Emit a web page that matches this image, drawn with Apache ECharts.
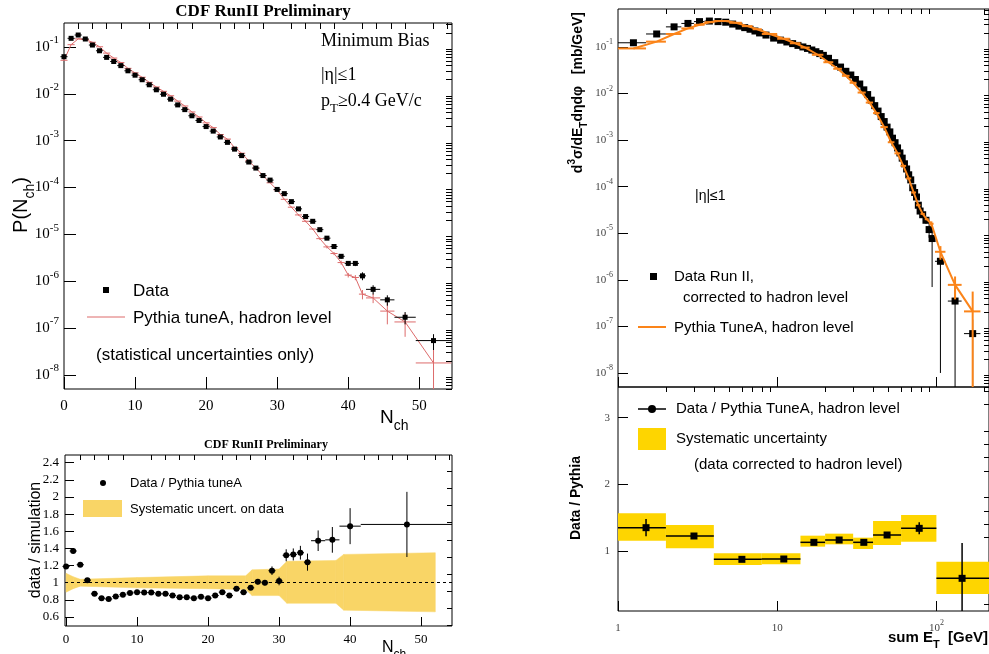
<!DOCTYPE html>
<html>
<head>
<meta charset="utf-8">
<title>CDF RunII minimum bias</title>
<script src="https://cdn.jsdelivr.net/npm/echarts@6/dist/echarts.min.js"></script>
</head>
<body style="margin:0;">
<div id="main" style="width:989px;height:654px;"></div>
<script type="text/javascript">
// ---- charged multiplicity P(Nch), data and Pythia tuneA
var nch = [0,1,2,3,4,5,6,7,8,9,10,11,12,13,14,15,16,17,18,19,20,21,22,23,24,25,26,27,28,29,30,31,32,33,34,35,36,37,38,39,40,41,42,43.5,45.5,48,52];
var nchHalf = [0.5,0.5,0.5,0.5,0.5,0.5,0.5,0.5,0.5,0.5,0.5,0.5,0.5,0.5,0.5,0.5,0.5,0.5,0.5,0.5,0.5,0.5,0.5,0.5,0.5,0.5,0.5,0.5,0.5,0.5,0.5,0.5,0.5,0.5,0.5,0.5,0.5,0.5,0.5,0.5,0.5,0.5,0.5,1,1,1.5,2.5];
var pData = [0.062,0.153,0.18,0.148,0.11,0.083,0.060,0.049,0.040,0.031,0.025,0.020,0.0156,0.0122,0.0098,0.0077,0.0058,0.0046,0.0034,0.0027,0.0020,0.0016,0.0012,0.00092,0.00066,0.00048,0.00035,0.00026,0.00018,0.000144,9.1e-5,7.4e-5,5.0e-5,3.5e-5,2.4e-5,1.9e-5,1.26e-5,8.3e-6,5.5e-6,3.4e-6,2.4e-6,2.4e-6,1.3e-6,6.7e-7,4.0e-7,1.7e-7,5.4e-8];
var pDataErr = [0,0,0,0,0,0,0,0,0,0,0,0,0,0,0,0,0,0,0,0,0,0,0,0,0,0,0,0,0,0,0,0,0,0,0,1e-6,8e-7,6e-7,5e-7,4e-7,3e-7,3e-7,2.5e-7,1.5e-7,1e-7,5e-8,2e-8];
var pPythia = [0.052,0.112,0.149,0.144,0.126,0.101,0.074,0.058,0.0465,0.035,0.028,0.0226,0.0176,0.0140,0.0113,0.0091,0.0070,0.0055,0.0041,0.0032,0.0024,0.0019,0.00135,0.00108,0.00071,0.00054,0.00037,0.00026,0.00018,0.000126,8.9e-5,5.6e-5,3.8e-5,2.6e-5,1.9e-5,1.3e-5,8.1e-6,5.4e-6,3.9e-6,2.5e-6,1.35e-6,1.2e-6,5.3e-7,4.4e-7,2.3e-7,1.35e-7,1.8e-8];
var pPythiaErr = [0,0,0,0,0,0,0,0,0,0,0,0,0,0,0,0,0,0,0,0,0,0,0,0,0,0,0,0,0,0,2e-6,1.5e-6,1.2e-6,1e-6,8e-7,6e-7,5e-7,4e-7,3e-7,2.5e-7,1.5e-7,1.5e-7,1.2e-7,1e-7,1.1e-7,7e-8,1.7e-8];

// ---- data / simulation ratio and systematic band
var ratioX = [0,1,2,3,4,5,6,7,8,9,10,11,12,13,14,15,16,17,18,19,20,21,22,23,24,25,26,27,28,29,30,31,32,33,34,35.5,37.5,40,48];
var ratioHalf = [0.5,0.5,0.5,0.5,0.5,0.5,0.5,0.5,0.5,0.5,0.5,0.5,0.5,0.5,0.5,0.5,0.5,0.5,0.5,0.5,0.5,0.5,0.5,0.5,0.5,0.5,0.5,0.5,0.5,0.5,0.5,0.5,0.5,0.5,0.5,1,1,1.5,6.5];
var ratioVal = [1.19,1.37,1.21,1.03,0.87,0.82,0.81,0.84,0.86,0.88,0.89,0.885,0.885,0.87,0.87,0.85,0.83,0.83,0.82,0.835,0.82,0.85,0.89,0.85,0.93,0.89,0.94,1.01,1.00,1.14,1.02,1.32,1.33,1.35,1.24,1.49,1.50,1.66,1.68];
var ratioErr = [0.01,0.01,0.01,0.01,0.01,0.01,0.01,0.01,0.01,0.01,0.01,0.01,0.01,0.01,0.01,0.01,0.01,0.01,0.01,0.01,0.01,0.015,0.015,0.015,0.02,0.02,0.025,0.03,0.03,0.05,0.05,0.07,0.07,0.08,0.1,0.12,0.15,0.21,0.38];
var bandX = [0,1,2,10,20,25.3,26.2,30,31.1,38,39.1,52];
var bandLo = [0.89,0.93,0.96,0.94,0.93,0.92,0.85,0.85,0.76,0.76,0.68,0.66];
var bandHi = [1.11,1.07,1.04,1.06,1.08,1.08,1.15,1.16,1.25,1.26,1.33,1.35];

// ---- sum ET cross section, data and Pythia TuneA
var etX = [1.25,1.75,2.25,2.75,3.25,3.75,4.25,4.75,5.25,5.75,6.25,6.75,7.25,7.75,8.5,9.5,10.5,11.5,12.5,13.5,14.5,15.5,16.5,17.5,18.5,19.5,21,23,25,27,29,31,33,35,37,39,41,43,45,47,49,51,53,55,57,59,61,63,65,67,69,71,73,75,77,79,82,86,90,94,106,131,169];
var etHalf = [0.25,0.25,0.25,0.25,0.25,0.25,0.25,0.25,0.25,0.25,0.25,0.25,0.25,0.25,0.5,0.5,0.5,0.5,0.5,0.5,0.5,0.5,0.5,0.5,0.5,0.5,1,1,1,1,1,1,1,1,1,1,1,1,1,1,1,1,1,1,1,1,1,1,1,1,1,1,1,1,1,1,1.5,2,2,2,8,13,20];
var etData = [0.123,0.19,0.27,0.32,0.35,0.36,0.35,0.34,0.31,0.28,0.26,0.24,0.22,0.20,0.18,0.155,0.14,0.128,0.118,0.108,0.10,0.093,0.086,0.079,0.072,0.066,0.057,0.046,0.037,0.030,0.025,0.020,0.016,0.012,0.0095,0.0072,0.0055,0.0042,0.0032,0.0025,0.0019,0.0015,0.0011,0.00088,0.00068,0.00053,0.00041,0.00031,0.00024,0.00018,0.00014,9.5e-5,7.5e-5,6e-5,4e-5,3e-5,2.5e-5,1.9e-5,1.2e-5,7.7e-6,2.5e-6,3.5e-7,7e-8];
var etErr = [0,0,0,0,0,0,0,0,0,0,0,0,0,0,0,0,0,0,0,0,0,0,0,0,0,0,0,0,0,0,0,0,0,0,0,0,0,0,0,0,0,0,0,0,0,0,0,0,0,0,0,0,0,0,0,0,3e-6,3e-6,4e-6,7e-6,2.49e-6,3.5e-7,7e-8];
var pyX = [1.25,1.75,2.25,2.75,3.25,3.75,4.25,4.75,5.5,6.5,7.5,9,11,13,15,18,21,24,27,30,34,38,42,47,52,57,62,67,72,77,82,87,93,106,131,169];
var pyHalf = [0.25,0.25,0.25,0.25,0.25,0.25,0.25,0.25,0.5,0.5,0.5,1,1,1,1,1.5,1.5,1.5,1.5,1.5,2,2,2,2.5,2.5,2.5,2.5,2.5,2.5,2.5,2.5,2.5,3,8,13,20];
var pyVal = [0.093,0.13,0.19,0.25,0.30,0.34,0.36,0.36,0.33,0.28,0.24,0.19,0.15,0.12,0.097,0.068,0.047,0.034,0.024,0.017,0.0105,0.0064,0.0038,0.0019,0.0009,0.00052,0.00028,0.00015,7.5e-5,4e-5,2.6e-5,2e-5,1.6e-5,4e-6,7.8e-7,2.1e-7];
var pyErr = [0,0,0,0,0,0,0,0,0,0,0,0,0,0,0,0,0,0,0,0,0,0,0,0,0,0,0,0,0,0,0,0,2e-6,1.3e-6,4e-7,3.5e-7];

// ---- Data / Pythia in sum ET bins
var dpX = [1.5,3,6,11,17,24.5,35,49,78,145];
var dpLo = [1,2,4,8,14,20,30,40,60,100];
var dpHi = [2,4,8,14,20,30,40,60,100,250];
var dpVal = [1.35,1.225,0.875,0.88,1.13,1.165,1.13,1.24,1.34,0.59];
var dpErr = [0.13,0.03,0.03,0.04,0.03,0.03,0.03,0.04,0.09,0.53];
var sysLo = [1.155,1.04,0.79,0.80,1.065,1.1,1.03,1.09,1.14,0.355];
var sysHi = [1.565,1.39,0.965,0.965,1.23,1.26,1.2,1.45,1.54,0.84];

// ---- ticks
var nchMajor = [0,10,20,30,40,50];
var nchMinor = [2,4,6,8,12,14,16,18,22,24,26,28,32,34,36,38,42,44,46,48,52,54];
var decMajor = [1e-8,1e-7,1e-6,1e-5,1e-4,1e-3,1e-2,1e-1];
var decMinor = [];
for (var p = -9; p <= -1; p++) for (var k = 2; k <= 9; k++) decMinor.push(k * Math.pow(10, p));
var ratioMajor = [0.6,0.8,1,1.2,1.4,1.6,1.8,2,2.2,2.4];
var ratioMinor = [0.5,0.7,0.9,1.1,1.3,1.5,1.7,1.9,2.1,2.3];
var etMajor = [1,10,100];
var etMinor = [2,3,4,5,6,7,8,9,20,30,40,50,60,70,80,90,200];
var dpMajor = [1,2,3];
var dpMinor = [0.2,0.4,0.6,0.8,1.2,1.4,1.6,1.8,2.2,2.4,2.6,2.8,3.2,3.4];

var SANS = 'Liberation Sans', SERIF = 'Liberation Serif';
var LOGMIN = 5e-9;

function rich(size, family, weight, color) {
    var L = Math.round(size * 1.6), h = Math.round(size * 0.72);
    var c = color || '#000', w = weight || 'normal';
    return {
        b: {fontSize: size, fontFamily: family, fontWeight: w, lineHeight: L, verticalAlign: 'middle', color: c},
        e: {fontSize: h, fontFamily: family, fontWeight: w, lineHeight: h, verticalAlign: 'top', color: c},
        s: {fontSize: h, fontFamily: family, fontWeight: w, lineHeight: h, verticalAlign: 'bottom', color: c}
    };
}
function logFmt(v) {
    return '{b|10}{e|' + Math.round(Math.log(v) / Math.LN10) + '}';
}
function linFmt(v) { return '{b|' + v + '}'; }

function axisPair(grid, type, min, max, major, minor, o) {
    var base = {type: type, gridIndex: grid, min: min, max: max, logBase: 10, splitLine: {show: false},
        axisLine: {show: false, onZero: false}};
    var main = Object.assign({}, base, {
        axisTick: {show: true, inside: true, length: o.len, customValues: major, lineStyle: {color: '#000', width: 1}},
        axisLabel: {show: o.show !== false, customValues: major, formatter: o.fmt, margin: o.margin,
            rich: rich(o.size, o.family, 'normal', o.color)}
    });
    var sub = Object.assign({}, base, {
        axisTick: {show: true, inside: true, length: o.minorLen, customValues: minor, lineStyle: {color: '#000', width: 1}},
        axisLabel: {show: false}
    });
    return [main, sub];
}

// error crosses: horizontal bar from xlo to xhi, vertical bar +-err
function crosses(xi, yi, xs, ys, xlo, xhi, err, ymin, xmax, color, width, z) {
    var d = xs.map(function (x, i) {
        return [x, ys[i], xlo[i], Math.min(xhi[i], xmax), Math.max(ys[i] - err[i], ymin), ys[i] + err[i]];
    });
    return {
        type: 'custom', xAxisIndex: xi, yAxisIndex: yi, data: d, z: z, silent: true,
        renderItem: function (params, api) {
            var c = api.coord([api.value(0), api.value(1)]);
            var a = api.coord([api.value(2), api.value(1)]);
            var b = api.coord([api.value(3), api.value(1)]);
            var lo = api.coord([api.value(0), api.value(4)]);
            var hi = api.coord([api.value(0), api.value(5)]);
            var st = {stroke: color, lineWidth: width};
            return {type: 'group', children: [
                {type: 'line', shape: {x1: a[0], y1: c[1], x2: b[0], y2: c[1]}, style: st},
                {type: 'line', shape: {x1: c[0], y1: lo[1], x2: c[0], y2: hi[1]}, style: st}
            ]};
        }
    };
}
function minus(xs, h) { return xs.map(function (x, i) { return x - h[i]; }); }
function plus(xs, h) { return xs.map(function (x, i) { return x + h[i]; }); }
function pairs(xs, ys) { return xs.map(function (x, i) { return [x, ys[i]]; }); }

function txt(x, y, str, size, family, o) {
    o = o || {};
    return {type: 'text', x: x, y: y, rotation: o.rot || 0, silent: true, z: 100,
        style: {text: str, rich: rich(size, family, o.weight, o.color), align: o.align || 'left',
            verticalAlign: o.valign || 'middle', fontStyle: o.italic ? 'italic' : 'normal'}};
}

var NCHMAX = 54.6;
var xAxes = [].concat(
    axisPair(0, 'value', 0, NCHMAX, nchMajor, nchMinor, {len: 12, minorLen: 6, fmt: linFmt, size: 15, family: SERIF, margin: 5}),
    axisPair(1, 'value', -0.15, 54.35, nchMajor, nchMinor, {len: 9, minorLen: 5, fmt: linFmt, size: 13, family: SERIF, margin: 3}),
    axisPair(2, 'log', 1, 214, etMajor, etMinor, {len: 10, minorLen: 5, show: false, fmt: linFmt, size: 11, family: SERIF}),
    axisPair(3, 'log', 1, 214, etMajor, etMinor, {len: 10, minorLen: 5, size: 11, family: SERIF, color: '#444', margin: 8,
        fmt: function (v) { return v >= 100 ? '{b|10}{e|2}' : '{b|' + v + '}'; }})
);
var yAxes = [].concat(
    axisPair(0, 'log', LOGMIN, 0.325, decMajor, decMinor, {len: 12, minorLen: 6, fmt: logFmt, size: 15, family: SERIF, margin: 5}),
    axisPair(1, 'value', 0.495, 2.49, ratioMajor, ratioMinor, {len: 9, minorLen: 5, fmt: linFmt, size: 13, family: SERIF, margin: 6}),
    axisPair(2, 'log', LOGMIN, 0.653, decMajor, decMinor, {len: 10, minorLen: 5, fmt: logFmt, size: 11, family: SERIF, color: '#444', margin: 5}),
    axisPair(3, 'value', 0.1, 3.46, dpMajor, dpMinor, {len: 10, minorLen: 5, fmt: linFmt, size: 11, family: SERIF, color: '#444', margin: 8})
);

var BAND = '#f9d566', GOLD = '#fed500', RED = '#dd6b6b', ORANGE = '#fb8419';

// band segments between consecutive points
var bandSegs = [];
for (var i = 0; i + 1 < bandX.length; i++) {
    bandSegs.push([bandX[i], bandLo[i], bandHi[i], bandX[i + 1], bandLo[i + 1], bandHi[i + 1]]);
}

var myChart = echarts.init(document.getElementById('main'));
var option = {
    animation: false,
    backgroundColor: '#fff',
    grid: [
        {left: 64, top: 23, width: 388, height: 366, show: true, borderColor: '#000', borderWidth: 1},
        {left: 65, top: 455, width: 387, height: 171, show: true, borderColor: '#000', borderWidth: 1},
        {left: 618, top: 9, width: 380, height: 378, show: true, borderColor: '#000', borderWidth: 1},
        {left: 618, top: 387, width: 380, height: 224, show: true, borderColor: '#000', borderWidth: 1}
    ],
    xAxis: xAxes,
    yAxis: yAxes,
    series: [
        // P(Nch)
        {type: 'line', xAxisIndex: 0, yAxisIndex: 0, data: pairs(nch, pPythia), symbol: 'none', z: 3,
            lineStyle: {color: RED, width: 1}},
        crosses(0, 0, nch, pPythia, minus(nch, nchHalf), plus(nch, nchHalf), pPythiaErr, LOGMIN, NCHMAX, RED, 1, 3),
        crosses(0, 0, nch, pData, minus(nch, nchHalf), plus(nch, nchHalf), pDataErr, LOGMIN, NCHMAX, '#000', 1, 4),
        {type: 'scatter', xAxisIndex: 0, yAxisIndex: 0, data: pairs(nch, pData), symbol: 'rect', symbolSize: 5, z: 5,
            itemStyle: {color: '#000', opacity: 1}},
        // systematic band
        {type: 'custom', xAxisIndex: 2, yAxisIndex: 2, data: bandSegs, z: 1, silent: true,
            renderItem: function (params, api) {
                var p0 = api.coord([api.value(0), api.value(1)]);
                var p1 = api.coord([api.value(3), api.value(4)]);
                var p2 = api.coord([api.value(3), api.value(5)]);
                var p3 = api.coord([api.value(0), api.value(2)]);
                return {type: 'polygon', shape: {points: [p0, p1, p2, p3]},
                    style: {fill: BAND, stroke: BAND, lineWidth: 0.5}};
            }},
        crosses(2, 2, ratioX, ratioVal, minus(ratioX, ratioHalf), plus(ratioX, ratioHalf), ratioErr, 0.495, 54.35, '#000', 1, 4),
        {type: 'scatter', xAxisIndex: 2, yAxisIndex: 2, data: pairs(ratioX, ratioVal), symbol: 'circle', symbolSize: 6, z: 5,
            itemStyle: {color: '#000', opacity: 1},
            markLine: {silent: true, symbol: 'none', label: {show: false},
                lineStyle: {color: '#000', width: 1, type: [3, 3]}, data: [{yAxis: 1}]}},
        // sum ET
        crosses(4, 4, etX, etData, minus(etX, etHalf), plus(etX, etHalf), etErr, LOGMIN, 214, '#000', 1, 3),
        {type: 'scatter', xAxisIndex: 4, yAxisIndex: 4, data: pairs(etX, etData), symbol: 'rect', symbolSize: 7, z: 4,
            itemStyle: {color: '#000', opacity: 1}},
        {type: 'line', xAxisIndex: 4, yAxisIndex: 4, data: pairs(pyX, pyVal), symbol: 'none', z: 5,
            lineStyle: {color: ORANGE, width: 2}},
        crosses(4, 4, pyX, pyVal, minus(pyX, pyHalf), plus(pyX, pyHalf), pyErr, LOGMIN, 214, ORANGE, 2, 5),
        // Data / Pythia
        {type: 'custom', xAxisIndex: 6, yAxisIndex: 6, z: 1, silent: true,
            data: dpX.map(function (x, i) { return [dpLo[i], sysLo[i], Math.min(dpHi[i], 214), sysHi[i]]; }),
            renderItem: function (params, api) {
                var a = api.coord([api.value(0), api.value(3)]);
                var b = api.coord([api.value(2), api.value(1)]);
                return {type: 'rect', shape: {x: a[0], y: a[1], width: b[0] - a[0], height: b[1] - a[1]},
                    style: {fill: GOLD}};
            }},
        crosses(6, 6, dpX, dpVal, dpLo, dpHi, dpErr, 0.1, 214, '#000', 1.5, 3),
        {type: 'scatter', xAxisIndex: 6, yAxisIndex: 6, data: pairs(dpX, dpVal), symbol: 'rect', symbolSize: 7, z: 4,
            itemStyle: {color: '#000', opacity: 1}}
    ],
    graphic: [
        txt(263, 12, '{b|CDF RunII Preliminary}', 17, SERIF, {align: 'center', weight: 'bold', italic: true}),
        txt(321, 41, '{b|Minimum Bias}', 18, SERIF),
        txt(321, 75, '{b||η|≤1}', 18, SERIF),
        txt(321, 101, '{b|p}{s|T}{b|≥0.4 GeV/c}', 18, SERIF),
        {type: 'rect', shape: {x: 103, y: 287, width: 6, height: 6}, style: {fill: '#000'}, z: 100},
        txt(133, 291, '{b|Data}', 17, SANS),
        {type: 'line', shape: {x1: 87, y1: 317, x2: 125, y2: 317}, style: {stroke: RED, lineWidth: 1}, z: 100},
        txt(133, 318, '{b|Pythia tuneA, hadron level}', 17, SANS),
        txt(96, 355, '{b|(statistical uncertainties only)}', 17, SANS),
        txt(380, 418, '{b|N}{s|ch}', 19, SANS),
        txt(21, 205, '{b|P(N}{s|ch}{b|)}', 20, SANS, {rot: Math.PI / 2, align: 'center'}),

        txt(266, 445, '{b|CDF RunII Preliminary}', 12, SERIF, {align: 'center', weight: 'bold', italic: true}),
        {type: 'circle', shape: {cx: 103, cy: 483, r: 3}, style: {fill: '#000'}, z: 100},
        txt(130, 483, '{b|Data / Pythia tuneA}', 13, SANS),
        {type: 'rect', shape: {x: 83, y: 500, width: 39, height: 17}, style: {fill: BAND}, z: 100},
        txt(130, 509, '{b|Systematic uncert. on data}', 13, SANS),
        txt(36, 540, '{b|data / simulation}', 16, SANS, {rot: Math.PI / 2, align: 'center'}),
        txt(382, 648, '{b|N}{s|ch}', 16, SANS),

        txt(578, 12, '{b|d}{e|3}{b|σ/dE}{s|T}{b|dηdφ   [mb/GeV]}', 14, SANS, {rot: Math.PI / 2, align: 'right', weight: 'bold'}),
        txt(695, 196, '{b||η|≤1}', 14, SANS),
        {type: 'rect', shape: {x: 650, y: 273, width: 7, height: 7}, style: {fill: '#000'}, z: 100},
        txt(674, 277, '{b|Data Run II,}', 15, SANS),
        txt(683, 298, '{b|corrected to hadron level}', 15, SANS),
        {type: 'line', shape: {x1: 638, y1: 327, x2: 666, y2: 327}, style: {stroke: ORANGE, lineWidth: 2}, z: 100},
        txt(674, 328, '{b|Pythia TuneA, hadron level}', 15, SANS),

        {type: 'line', shape: {x1: 638, y1: 409, x2: 666, y2: 409}, style: {stroke: '#000', lineWidth: 1.5}, z: 100},
        {type: 'circle', shape: {cx: 652, cy: 409, r: 4}, style: {fill: '#000'}, z: 100},
        txt(676, 409, '{b|Data / Pythia TuneA, hadron level}', 15, SANS),
        {type: 'rect', shape: {x: 638, y: 428, width: 28, height: 22}, style: {fill: GOLD}, z: 100},
        txt(676, 439, '{b|Systematic uncertainty}', 15, SANS),
        txt(694, 465, '{b|(data corrected to hadron level)}', 15, SANS),
        txt(576, 498, '{b|Data / Pythia}', 14, SANS, {rot: Math.PI / 2, align: 'center', weight: 'bold'}),
        txt(988, 638, '{b|sum E}{s|T}{b|  [GeV]}', 15, SANS, {align: 'right', weight: 'bold'})
    ]
};
myChart.setOption(option);
</script>
</body>
</html>
